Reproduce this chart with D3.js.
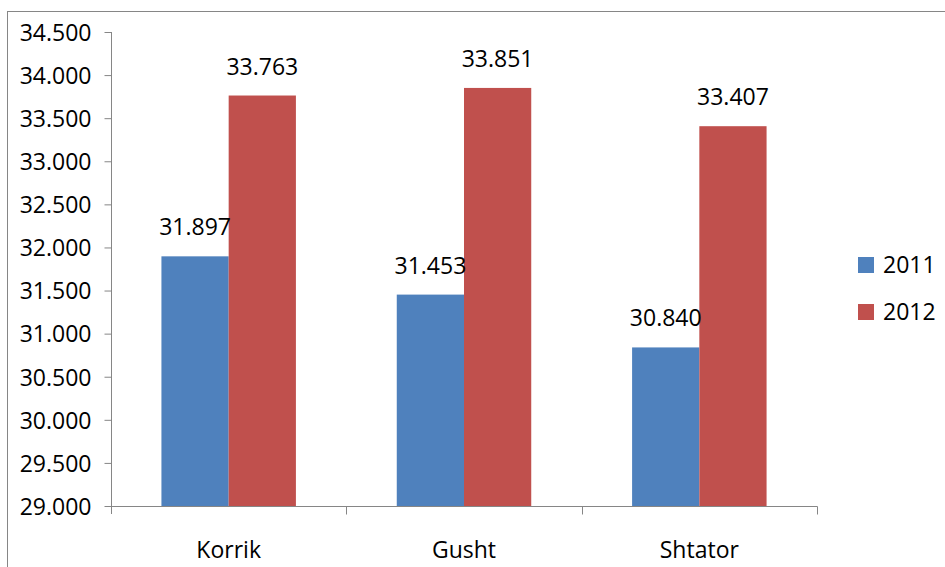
<!DOCTYPE html>
<html>
<head>
<meta charset="utf-8">
<script src="https://cdn.jsdelivr.net/npm/d3@7"></script>
<style>
  body { margin: 0; background: #fff; }
  svg text { font-family: "Open Sans", sans-serif; fill: #000; }
</style>
</head>
<body>
<div id="chart"></div>
<script>
// chart size
const width = 945;
const height = 567;

// data
const months = ["Korrik", "Gusht", "Shtator"];
const years = ["2011", "2012"];
const values2011 = [31.897, 31.453, 30.840];
const values2012 = [33.763, 33.851, 33.407];
const yTicks = [29, 29.5, 30, 30.5, 31, 31.5, 32, 32.5, 33, 33.5, 34, 34.5];
const colors = ["#4f81bd", "#c0504d"];

// plot area
const plot = { left: 111, right: 817, top: 32, bottom: 506 };
const axisColor = "#868686";
const fontSize = 23;

// number format with dot thousands separator like the original
const fmt = d3.formatLocale({ decimal: ",", thousands: ".", grouping: [3], currency: ["", ""] });
const tickFmt = d => fmt.format(",.0f")(d * 1000);

const svg = d3.select("#chart")
    .append("svg")
    .attr("width", width)
    .attr("height", height);

// outer chart frame (cropped at the right and bottom)
svg.append("rect")
    .attr("x", 7.5)
    .attr("y", 11.5)
    .attr("width", width + 20)
    .attr("height", height + 20)
    .attr("fill", "none")
    .attr("stroke", axisColor)
    .attr("stroke-width", 1);

const x0 = d3.scaleBand()
    .domain(months)
    .range([plot.left, plot.right])
    .paddingInner(0)
    .paddingOuter(0);

// bars take 2 of 3.5 parts of a category (gap width 150%)
const groupWidth = x0.bandwidth() * 2 / 3.5;
const x1 = d3.scaleBand()
    .domain(years)
    .range([0, groupWidth]);

const y = d3.scaleLinear()
    .domain([29, 34.5])
    .range([plot.bottom, plot.top]);

const rows = months.map((m, i) => ({ month: m, values: [values2011[i], values2012[i]] }));

// bars
const groups = svg.append("g")
    .selectAll("g")
    .data(rows)
    .join("g")
    .attr("transform", d => `translate(${x0(d.month) + (x0.bandwidth() - groupWidth) / 2},0)`);

groups.selectAll("rect")
    .data(d => d.values.map((v, j) => ({ year: years[j], value: v, j })))
    .join("rect")
    .attr("x", d => x1(d.year))
    .attr("y", d => y(d.value))
    .attr("width", x1.bandwidth())
    .attr("height", d => plot.bottom - y(d.value))
    .attr("fill", d => colors[d.j]);

// data labels
groups.selectAll("text")
    .data(d => d.values.map((v, j) => ({ year: years[j], value: v })))
    .join("text")
    .attr("x", d => x1(d.year) + x1.bandwidth() / 2)
    .attr("y", d => y(d.value) - 21)
    .attr("text-anchor", "middle")
    .style("font-size", fontSize + "px")
    .text(d => tickFmt(d.value));

// y axis
const yAxis = d3.axisLeft(y)
    .tickValues(yTicks)
    .tickSize(7)
    .tickPadding(13)
    .tickFormat(tickFmt);

const yg = svg.append("g")
    .attr("transform", `translate(${plot.left + 0.5},0)`)
    .call(yAxis);
yg.select(".domain").attr("stroke", axisColor).attr("d", `M0,${plot.top}V${plot.bottom + 8}`);
yg.selectAll(".tick line").attr("stroke", axisColor);
yg.selectAll(".tick text")
    .style("font-size", fontSize + "px")
    .attr("dy", "0.36em");

// x axis with ticks at category boundaries
const xg = svg.append("g")
    .attr("transform", `translate(0,${plot.bottom + 0.5})`);
xg.append("path")
    .attr("d", `M${plot.left},0H${plot.right + 0.5}`)
    .attr("stroke", axisColor)
    .attr("fill", "none");
xg.selectAll("line")
    .data(months.map(m => x0(m) + x0.bandwidth()))
    .join("line")
    .attr("x1", d => Math.round(d) + 0.5)
    .attr("x2", d => Math.round(d) + 0.5)
    .attr("y1", 0)
    .attr("y2", 8)
    .attr("stroke", axisColor);
xg.selectAll("text")
    .data(months)
    .join("text")
    .attr("x", d => x0(d) + x0.bandwidth() / 2)
    .attr("y", 51)
    .attr("text-anchor", "middle")
    .style("font-size", fontSize + "px")
    .text(d => d);

// legend
const legend = svg.append("g")
    .attr("transform", "translate(858,257)");
const items = legend.selectAll("g")
    .data(years)
    .join("g")
    .attr("transform", (d, i) => `translate(0,${i * 47})`);
items.append("rect")
    .attr("width", 16)
    .attr("height", 16)
    .attr("fill", (d, i) => colors[i]);
items.append("text")
    .attr("x", 25)
    .attr("y", 8)
    .attr("dy", "0.36em")
    .style("font-size", fontSize + "px")
    .text(d => d);
</script>
</body>
</html>
